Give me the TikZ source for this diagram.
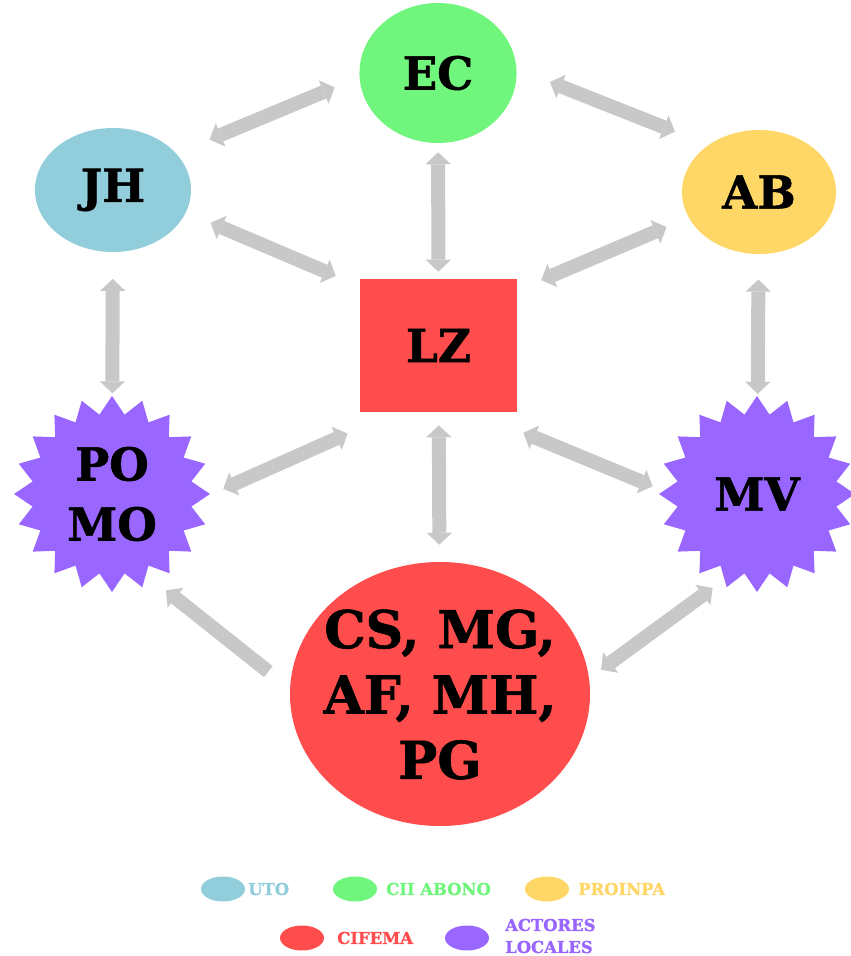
\documentclass[tikz,border=0pt]{standalone}
\usepackage{fontspec}
\newfontfamily\stencil{DejaVu Serif}[BoldFeatures={FakeBold=1.2}]
\usetikzlibrary{arrows.meta,shapes.geometric}

\definecolor{uto}{RGB}{146,205,220}
\definecolor{cii}{RGB}{112,245,125}
\definecolor{proinpa}{RGB}{255,215,102}
\definecolor{cifema}{RGB}{255,77,77}
\definecolor{actores}{RGB}{153,102,255}
\definecolor{flecha}{RGB}{200,200,200}

\begin{document}
\begin{tikzpicture}[x=0.75pt,y=-0.75pt,
   actor/.style={ellipse,inner sep=0pt,align=center,
     font=\stencil\bfseries\fontsize{34}{45}\selectfont},
   local/.style={star,star points=20,star point ratio=1.22,inner sep=0pt,
     fill=actores,minimum size=147pt,align=center,
     font=\stencil\bfseries\fontsize{34}{45}\selectfont},
   link/.style={draw=flecha,line width=10.5pt,
     {Triangle[width=19pt,length=9pt,line width=0pt]}-{Triangle[width=19pt,length=9pt,line width=0pt]}},
   key/.style={ellipse,inner sep=0pt,minimum width=33pt,minimum height=18.75pt},
   keytext/.style={anchor=west,inner sep=0pt,align=left,
     font=\stencil\bfseries\fontsize{12.3}{16.5}\selectfont}]
   \useasboundingbox (0,0) rectangle (850,956);

   \node[actor,fill=cii,minimum width=117.8pt,minimum height=105pt] (ec) at (438,73) {EC};
   \node[actor,fill=uto,minimum width=117pt,minimum height=93pt] (jh) at (113,190) {JH};
   \node[actor,fill=proinpa,minimum width=115.5pt,minimum height=93pt] (ab) at (759,192) {AB};
   \node[rectangle,fill=cifema,inner sep=0pt,minimum width=117.8pt,minimum height=99.8pt,
     font=\stencil\bfseries\fontsize{34}{45}\selectfont] (lz) at (438.5,345.5) {LZ};
   \node[local] (pomo) at (112,494) {PO\\MO};
   \node[local] (mv) at (757,494) {MV};
   \node[actor,fill=cifema,minimum width=225pt,minimum height=198pt,
     font=\stencil\bfseries\fontsize{39}{49}\selectfont] (cs) at (440,694)
     {\smash{\makebox[0pt]{\raisebox{-11pt}{\begin{tabular}{@{}c@{}}CS, MG,\\AF, MH,\\PG\end{tabular}}}}};

   \draw[link,shorten <=27pt,shorten >=20pt] (jh.30) -- (ec.183);
   \draw[link,shorten <=26.8pt,shorten >=27pt] (ec.3) -- (ab.137);
   \draw[link,shorten <=20pt,shorten >=19.5pt] (jh.-17) -- (lz.143);
   \draw[link,shorten <=6.75pt,shorten >=5.25pt] (ec) -- (lz);
   \draw[link,shorten <=18pt,shorten >=19.5pt] (ab.200) -- (lz.35);
   \draw[link,shorten <=20pt,shorten >=2pt] (jh) -- (pomo);
   \draw[link,shorten <=19pt,shorten >=2pt] (ab) -- (mv);
   \draw[link,shorten <=39pt,shorten >=12.6pt] (lz.237) -- (pomo.-1);
   \draw[link,shorten <=9.75pt,shorten >=12.75pt] (lz) -- (cs);
   \draw[link,shorten <=40pt,shorten >=8.7pt] (lz.-62) -- (mv.178);
   \draw[link,{Butt Cap}-{Triangle[width=19pt,length=9pt,line width=0pt]},
     shorten <=20.6pt,shorten >=19pt] (cs.178) -- (pomo.-67);
   \draw[link,shorten <=11pt,shorten >=10.8pt] (cs.6) -- (mv.249);

   \node[key,fill=uto] (kuto) at (223,889) {};
   \node[keytext,text=uto] (tuto) at (248,889) {UTO};
   \node[key,fill=cii] (kcii) at (355,889) {};
   \node[keytext,text=cii] (tcii) at (386,889) {CII ABONO};
   \node[key,fill=proinpa] (kproinpa) at (547,889) {};
   \node[keytext,text=proinpa] (tproinpa) at (578,889) {PROINPA};
   \node[key,fill=cifema] (kcifema) at (302,938) {};
   \node[keytext,text=cifema] (tcifema) at (337,938) {CIFEMA};
   \node[key,fill=actores] (kactores) at (467,938) {};
   \node[keytext,text=actores] (tactores) at (505,936) {ACTORES\\LOCALES};
\end{tikzpicture}
\end{document}
